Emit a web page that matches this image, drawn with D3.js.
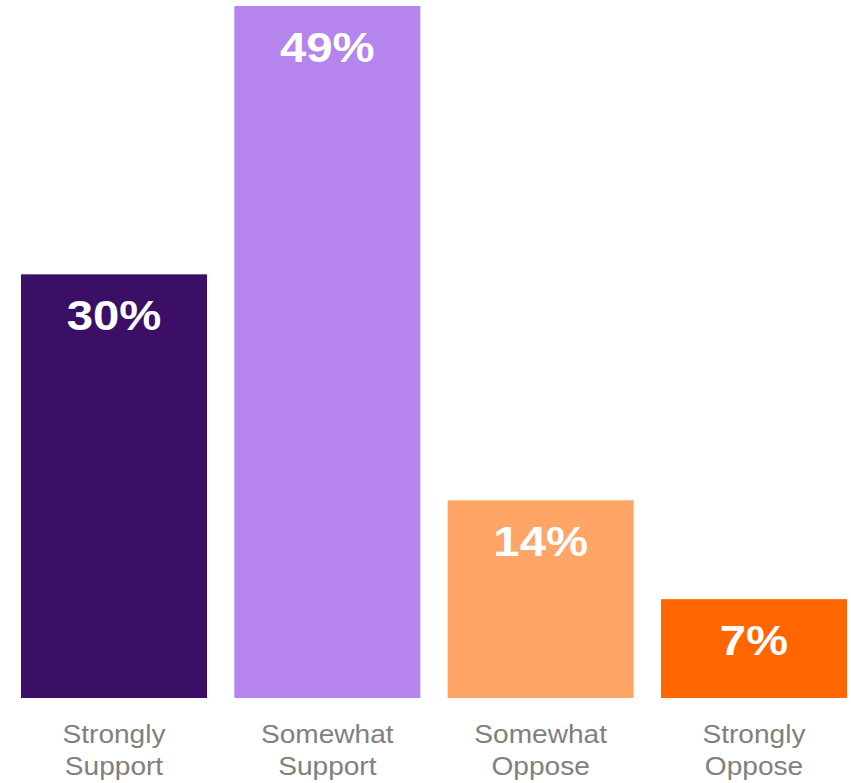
<!DOCTYPE html>
<html>
<head>
<meta charset="utf-8">
<script src="https://cdn.jsdelivr.net/npm/d3@7"></script>
<style>
  html, body { margin: 0; padding: 0; background: #ffffff; }
  svg { display: block; }
</style>
</head>
<body>
<div id="chart"></div>
<script>
// Support / oppose breakdown
const categories = ["Strongly Support", "Somewhat Support", "Somewhat Oppose", "Strongly Oppose"];
const values = [30, 49, 14, 7];
const labelLines = [["Strongly", "Support"], ["Somewhat", "Support"], ["Somewhat", "Oppose"], ["Strongly", "Oppose"]];
const colors = ["#3c0f66", "#b584ed", "#ffa566", "#ff6600"];

const width = 851, height = 783;
const baseline = 698;

const svg = d3.select("#chart").append("svg")
  .attr("width", width)
  .attr("height", height);

const x = d3.scaleBand()
  .domain(categories)
  .range([21, 847])
  .paddingInner(0.128)
  .paddingOuter(0);

const y = d3.scaleLinear()
  .domain([0, 49])
  .range([baseline, 6]);

const data = categories.map((c, i) => ({ cat: c, value: values[i], lines: labelLines[i], color: colors[i] }));

// bars
svg.selectAll("rect.bar")
  .data(data)
  .join("rect")
  .attr("class", "bar")
  .attr("x", d => x(d.cat))
  .attr("y", d => y(d.value))
  .attr("width", x.bandwidth())
  .attr("height", d => y(0) - y(d.value))
  .attr("fill", d => d.color);

// value labels inside the top of each bar
svg.selectAll("text.value")
  .data(data)
  .join("text")
  .attr("class", "value")
  .attr("transform", d => `translate(${x(d.cat) + x.bandwidth() / 2},${y(d.value) + 56}) scale(1.1,1)`)
  .attr("text-anchor", "middle")
  .attr("font-family", "Liberation Sans, Arial, sans-serif")
  .attr("font-weight", "bold")
  .attr("font-size", 43)
  .attr("fill", "#ffffff")
  .text(d => d.value + "%");

// category labels below the bars (two lines)
const cat = svg.selectAll("g.cat")
  .data(data)
  .join("g")
  .attr("class", "cat")
  .attr("transform", d => `translate(${x(d.cat) + x.bandwidth() / 2},0)`);

cat.selectAll("text")
  .data(d => d.lines)
  .join("text")
  .attr("transform", (t, i) => `translate(0,${743 + i * 32}) scale(1.08,1)`)
  .attr("text-anchor", "middle")
  .attr("font-family", "Liberation Sans, Arial, sans-serif")
  .attr("font-size", 26)
  .attr("fill", "#808080")
  .text(t => t);
</script>
</body>
</html>
